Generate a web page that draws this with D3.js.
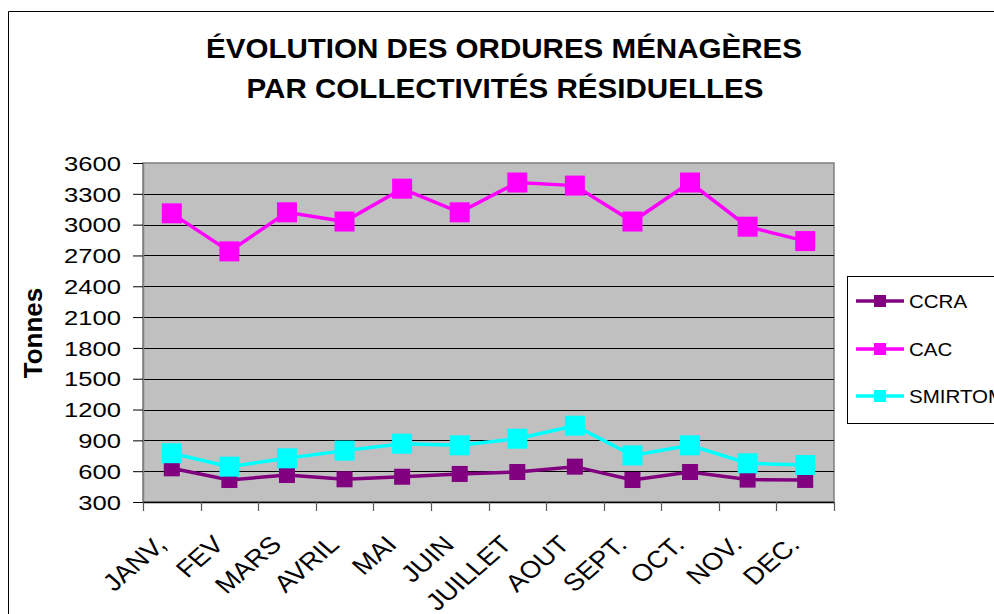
<!DOCTYPE html>
<html>
<head>
<meta charset="utf-8">
<script src="https://cdn.jsdelivr.net/npm/d3@7"></script>
<style>
  body { margin: 0; background: #fff; }
  svg { display: block; font-family: "Liberation Sans", Arial, sans-serif; }
</style>
</head>
<body>
<div id="chart"></div>
<script>
// data
const months = ["JANV,", "FEV", "MARS", "AVRIL", "MAI", "JUIN", "JUILLET", "AOUT", "SEPT.", "OCT.", "NOV.", "DEC."];
const ccra    = [628, 514, 563, 521, 546, 573, 592, 644, 514, 592, 518, 515];
const cac     = [3110, 2740, 3120, 3030, 3350, 3120, 3410, 3380, 3030, 3410, 2980, 2840];
const smirtom = [775, 644, 725, 800, 868, 852, 916, 1043, 754, 852, 677, 660];
const yTicks  = [300, 600, 900, 1200, 1500, 1800, 2100, 2400, 2700, 3000, 3300, 3600];

const series = [
    { name: "CCRA", values: ccra, color: "#800080", size: 16 },
    { name: "CAC", values: cac, color: "#FF00FF", size: 20 },
    { name: "SMIRTOM", values: smirtom, color: "#00FFFF", size: 20 }
];

const W = 994, H = 614;
const plot = { left: 143, right: 834, top: 163, bottom: 502 };

const svg = d3.select("#chart").append("svg")
    .attr("width", W)
    .attr("height", H);

// outer chart frame (runs off the right and bottom edges)
svg.append("path")
    .attr("d", "M8.5," + H + "V11.5H" + W)
    .attr("fill", "none")
    .attr("stroke", "#000")
    .attr("stroke-width", 1);

// title
const title = svg.append("g")
    .attr("font-weight", "bold")
    .attr("font-size", 28)
    .attr("text-anchor", "middle");
title.append("text")
    .attr("x", 504).attr("y", 58)
    .attr("textLength", 596).attr("lengthAdjust", "spacingAndGlyphs")
    .text("ÉVOLUTION DES ORDURES MÉNAGÈRES");
title.append("text")
    .attr("x", 505).attr("y", 98)
    .attr("textLength", 517).attr("lengthAdjust", "spacingAndGlyphs")
    .text("PAR COLLECTIVITÉS RÉSIDUELLES");

const x = d3.scaleBand()
    .domain(months)
    .range([plot.left, plot.right])
    .padding(0);
const cx = m => x(m) + x.bandwidth() / 2;

const y = d3.scaleLinear()
    .domain([300, 3600])
    .range([plot.bottom, plot.top]);

// plot background
svg.append("rect")
    .attr("x", plot.left).attr("y", plot.top)
    .attr("width", plot.right - plot.left)
    .attr("height", plot.bottom - plot.top)
    .attr("fill", "#C0C0C0")
    .attr("stroke", "#808080")
    .attr("stroke-width", 1.5);

// gridlines
svg.append("g")
    .selectAll("line")
    .data(yTicks.filter(t => t > 300 && t < 3600))
    .enter().append("line")
    .attr("x1", plot.left).attr("x2", plot.right)
    .attr("y1", d => Math.round(y(d)) + 0.5)
    .attr("y2", d => Math.round(y(d)) + 0.5)
    .attr("stroke", "#000")
    .attr("stroke-width", 1);

// y axis
const yAxis = svg.append("g")
    .attr("transform", "translate(" + plot.left + ",0)")
    .call(d3.axisLeft(y).tickValues(yTicks).tickFormat(d3.format("d"))
        .tickSize(10).tickSizeOuter(0).tickPadding(0));
yAxis.select(".domain").attr("stroke", "#808080").attr("stroke-width", 1.5);
yAxis.selectAll(".tick line").attr("stroke", "#000");
yAxis.selectAll(".tick text")
    .attr("font-size", 20)
    .attr("font-family", "Liberation Sans, Arial, sans-serif")
    .attr("fill", "#000")
    .attr("x", 0).attr("dy", "0.36em")
    .attr("transform", "translate(-22,0) scale(1.28,1)");

// x axis (ticks on category boundaries)
const bounds = months.map(m => x(m)).concat([plot.right]);
svg.append("line")
    .attr("x1", plot.left).attr("x2", plot.right)
    .attr("y1", plot.bottom + 0.5).attr("y2", plot.bottom + 0.5)
    .attr("stroke", "#000").attr("stroke-width", 1.5);
svg.append("g")
    .selectAll("line")
    .data(bounds)
    .enter().append("line")
    .attr("x1", d => Math.round(d) + 0.5).attr("x2", d => Math.round(d) + 0.5)
    .attr("y1", plot.bottom).attr("y2", plot.bottom + 9)
    .attr("stroke", "#555").attr("stroke-width", 1.2);

svg.append("g")
    .selectAll("text")
    .data(months)
    .enter().append("text")
    .attr("text-anchor", "end")
    .attr("font-size", 24)
    .attr("transform", d => "translate(" + (cx(d) - 4) + "," + 546 + ") scale(1.15,1) rotate(-45)")
    .text(d => d);

// y axis title
svg.append("text")
    .attr("transform", "translate(42,333) rotate(-90)")
    .attr("text-anchor", "middle")
    .attr("font-weight", "bold")
    .attr("font-size", 26)
    .text("Tonnes");

// series
const line = d3.line()
    .x((d, i) => cx(months[i]))
    .y(d => y(d));

const sg = svg.append("g").selectAll("g")
    .data(series)
    .enter().append("g");

sg.append("path")
    .attr("d", d => line(d.values))
    .attr("fill", "none")
    .attr("stroke", d => d.color)
    .attr("stroke-width", 3.5);

sg.each(function(s) {
    d3.select(this).selectAll("rect")
        .data(s.values)
        .enter().append("rect")
        .attr("x", (d, i) => cx(months[i]) - s.size / 2)
        .attr("y", d => y(d) - s.size / 2)
        .attr("width", s.size)
        .attr("height", s.size)
        .attr("fill", s.color);
});

// legend (runs off the right edge, as in the source)
const legend = svg.append("g");
legend.append("rect")
    .attr("x", 847.5).attr("y", 276.5)
    .attr("width", 200).attr("height", 147)
    .attr("fill", "#fff")
    .attr("stroke", "#000");

const li = legend.selectAll("g.item")
    .data(series)
    .enter().append("g")
    .attr("class", "item")
    .attr("transform", (d, i) => "translate(0," + [301, 349, 396][i] + ")");
li.append("line")
    .attr("x1", 856).attr("x2", 904)
    .attr("stroke", d => d.color)
    .attr("stroke-width", 3.5);
li.append("rect")
    .attr("x", 874).attr("y", -6)
    .attr("width", 12).attr("height", 12)
    .attr("fill", d => d.color);
li.append("text")
    .attr("font-size", 19)
    .attr("dy", "0.36em")
    .attr("transform", "translate(909,0) scale(1.08,1)")
    .text(d => d.name);
</script>
</body>
</html>
